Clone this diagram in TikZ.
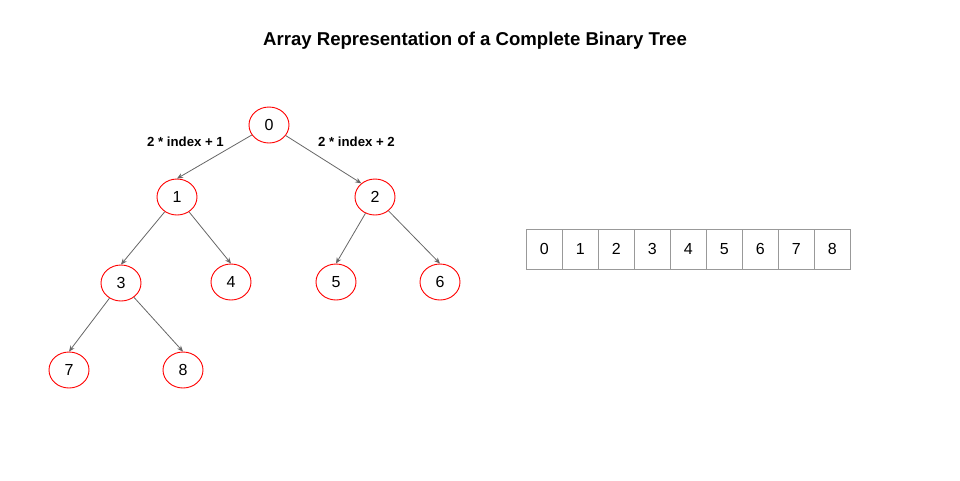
\documentclass[tikz,border=0pt]{standalone}
\usepackage{fontspec}
\setmainfont{Liberation Sans}
\usetikzlibrary{shapes.geometric,arrows.meta}
\begin{document}
\begin{tikzpicture}[x=1pt,y=-1pt,
  tnode/.style={ellipse,draw=red,line width=0.9pt,fill=white,minimum width=40pt,minimum height=36pt,inner sep=0pt,font=\fontsize{16}{18}\selectfont},
  edge/.style={draw=black!60,line width=0.8pt,-{Stealth[length=6pt,width=5pt]}},
  cell/.style={draw=black!40,line width=0.8pt,minimum width=36pt,minimum height=40pt,inner sep=0pt,anchor=west,font=\fontsize{16}{18}\selectfont},
  lbl/.style={font=\bfseries\fontsize{13.2}{15}\selectfont}]
\useasboundingbox (0,0) rectangle (960,480);
\node[font=\bfseries\fontsize{18.6}{21}\selectfont] (title) at (475,41) {Array Representation of a Complete Binary Tree};
\node[tnode] (n0) at (269,125) {0};
\node[tnode] (n1) at (177,197) {1};
\node[tnode] (n2) at (375,197) {2};
\node[tnode] (n3) at (121,283) {3};
\node[tnode] (n4) at (231,282) {4};
\node[tnode] (n5) at (336,282) {5};
\node[tnode] (n6) at (440,282) {6};
\node[tnode] (n7) at (69,370) {7};
\node[tnode] (n8) at (183,370) {8};
\draw[edge] (n0) -- (n1.north);
\draw[edge] (n0) -- (n2.135);
\draw[edge] (n1) -- (n3.north);
\draw[edge] (n1) -- (n4.north);
\draw[edge] (n2) -- (n5.north);
\draw[edge] (n2) -- (n6.north);
\draw[edge] (n3) -- (n7.north);
\draw[edge] (n3) -- (n8.north);
\node[lbl] (l1) at (185.5,142) {2 * index + 1};
\node[lbl] (l2) at (356.5,142) {2 * index + 2};
\foreach \i in {0,...,8} {
  \node[cell] (c\i) at (526+36*\i,249) {\i};
}
\end{tikzpicture}
\end{document}
